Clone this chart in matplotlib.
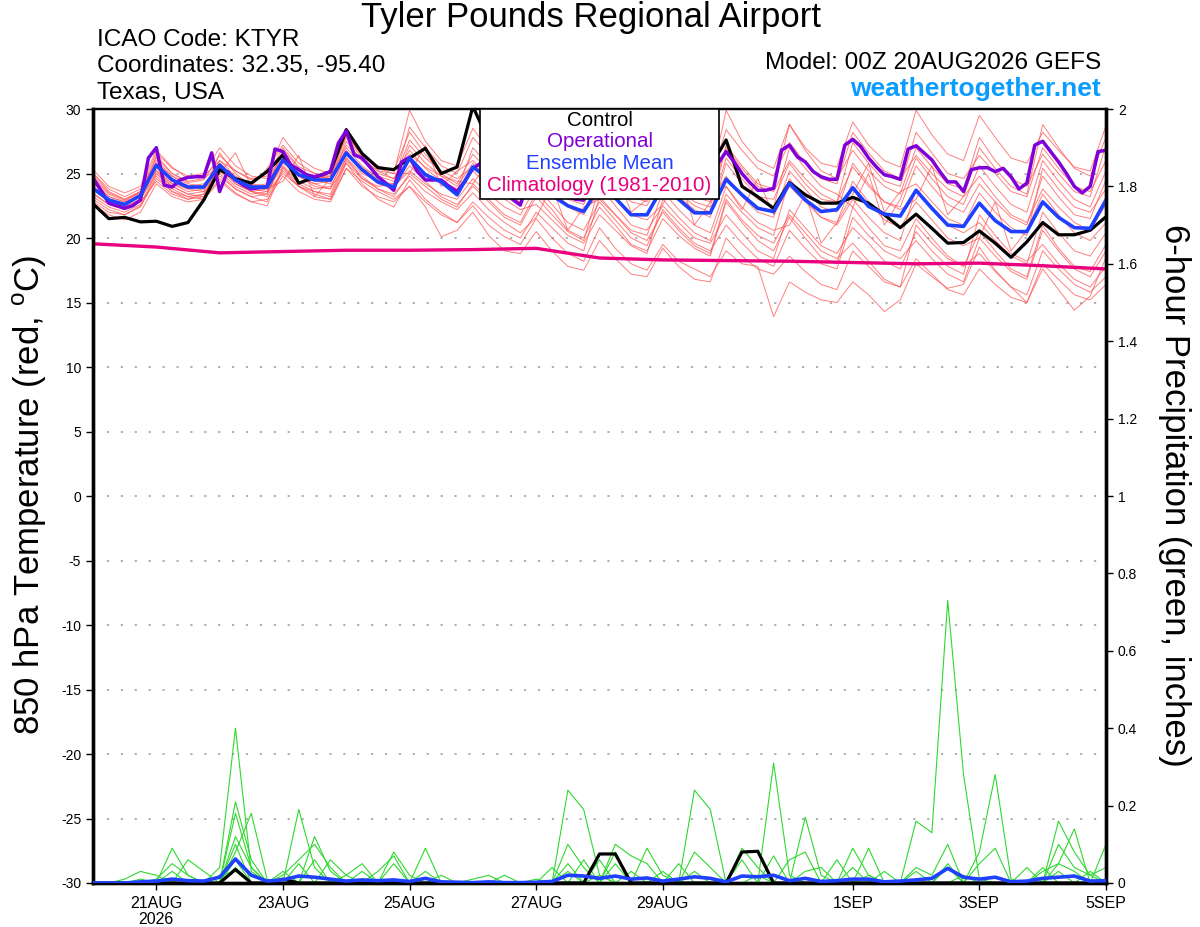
import matplotlib
matplotlib.use("Agg")
import matplotlib.pyplot as plt
import numpy as np
from matplotlib.patches import Rectangle

plt.rcParams['font.family'] = ['Liberation Sans', 'DejaVu Sans']
plt.rcParams['axes.unicode_minus'] = False
plt.rcParams['mathtext.fontset'] = 'custom'
plt.rcParams['mathtext.rm'] = 'Liberation Sans'

# ---- data ----
# 850 hPa temperature, 6-hourly from 00Z 20AUG
ens_mean_t = [23.85, 22.95, 22.6, 23.3, 25.65, 24.5, 23.95, 23.95,
              25.65, 24.5, 23.95, 23.95, 26.05, 24.9, 24.5, 24.5,
              26.6, 25.3, 24.35, 23.95, 26.2, 24.9, 24.35, 23.35,
              25.5, 24.6, 23.8, 23.4, 24.8, 23.3, 22.5, 22.05,
              24.0, 23.1, 21.8, 21.8, 24.0, 23.0, 21.95, 21.95,
              24.55, 23.35, 22.3, 22.05, 24.25, 22.95, 22.05, 22.2,
              23.9, 22.45, 21.85, 21.7, 23.7, 22.3, 21.0, 20.9,
              22.7, 21.35, 20.5, 20.5, 22.8, 21.6, 20.8, 20.75,
              22.95]

control_t = [22.65, 21.5, 21.6, 21.25, 21.3, 20.9, 21.2, 22.95,
             25.3, 24.6, 24.25, 25.15, 26.45, 24.25, 24.7, 25.15,
             28.4, 26.55, 25.45, 25.3, 26.2, 26.95, 25.0, 25.5,
             30.2, 27.5, 26.0, 25.2, 26.8, 25.6, 24.6, 24.2,
             26.4, 25.4, 24.6, 24.2, 26.0, 25.2, 24.6, 25.5,
             27.6, 24.0, 23.2, 22.3, 24.3, 23.35, 22.7, 22.7,
             23.15, 22.7, 21.8, 20.8, 21.85, 20.75, 19.6, 19.65,
             20.55, 19.6, 18.5, 19.7, 21.2, 20.25, 20.25, 20.6,
             21.65]

# operational run is 3-hourly
oper_t = [24.65, 23.7, 22.7, 22.5, 22.3, 22.5, 22.95, 26.2,
          27.0, 24.1, 23.95, 24.5, 24.7, 24.75, 24.75, 26.6,
          23.6, 25.15, 24.5, 24.1, 23.8, 23.9, 23.95, 26.9,
          26.7, 25.65, 25.3, 24.9, 24.75, 24.9, 25.15, 27.35,
          28.3, 26.45, 26.2, 25.5, 24.75, 24.25, 23.7, 25.9,
          26.25, 25.15, 24.5, 24.5, 24.5, 24.0, 23.6, 24.4,
          25.4, 25.8, 25.0, 24.2, 23.6, 23.0, 22.55, 24.5,
          25.6, 25.0, 24.2, 23.5, 23.2, 23.0, 22.95, 24.8,
          25.8, 25.2, 24.6, 24.0, 23.6, 23.4, 23.3, 25.2,
          26.0, 25.4, 24.8, 24.2, 23.8, 23.6, 24.0, 25.8,
          26.7, 25.9, 25.0, 24.3, 23.7, 23.7, 23.85, 26.8,
          27.2, 26.3, 25.9, 25.15, 24.75, 24.55, 24.55, 27.2,
          27.65, 27.1, 26.2, 25.5, 24.9, 24.75, 24.55, 26.9,
          27.15, 26.6, 26.05, 25.15, 24.35, 24.35, 23.6, 25.3,
          25.45, 25.45, 25.15, 25.4, 24.75, 23.8, 24.25, 27.2,
          27.5, 26.7, 25.9, 25.0, 24.0, 23.5, 24.0, 26.7,
          26.8]

# climatology, one value per day
clim_t = [19.55, 19.3, 18.85, 18.95, 19.05, 19.05, 19.1, 19.2, 18.45,
          18.3, 18.25, 18.2, 18.1, 18.0, 18.05, 17.85, 17.6]

member_t = [
    [24.5, 23.2, 22.8, 23.6, 26.2, 25.0, 24.3, 24.5, 26.4, 25.2, 24.6, 24.8, 27.0, 25.5, 25.0, 24.8,
     27.2, 26.0, 25.2, 25.0, 29.9, 27.5, 26.0, 25.6, 28.5, 26.8, 25.5, 25.0, 27.8, 26.0, 24.8, 24.5,
     27.0, 25.5, 24.3, 24.0, 27.5, 25.8, 24.6, 24.2, 29.9, 27.5, 26.0, 25.4, 28.8, 27.0, 25.8, 25.5,
     29.0, 27.2, 26.0, 25.5, 29.9, 28.0, 26.5, 26.0, 29.5, 27.8, 26.2, 25.8, 28.2, 26.8, 25.5, 25.2, 28.7],
    [23.2, 22.4, 22.0, 22.6, 25.0, 23.8, 23.2, 23.0, 24.6, 23.5, 22.8, 22.5, 25.4, 24.0, 23.2, 23.0,
     25.8, 24.2, 23.0, 22.4, 24.5, 23.0, 22.0, 21.2, 22.5, 21.0, 20.1, 19.5, 21.5, 20.0, 18.8, 18.2,
     20.8, 19.2, 18.0, 17.5, 19.5, 18.2, 17.6, 17.0, 19.0, 18.0, 17.8, 13.9, 16.6, 15.8, 15.2, 15.0,
     16.6, 15.6, 14.3, 15.2, 18.0, 17.0, 16.1, 16.4, 19.3, 17.5, 16.2, 15.0, 17.6, 16.0, 14.4, 15.5, 18.5],
    [24.0, 23.0, 22.6, 23.3, 26.0, 24.8, 24.2, 24.0, 25.8, 24.6, 24.0, 24.2, 26.5, 25.2, 24.8, 24.6,
     27.0, 25.6, 24.6, 24.0, 26.5, 25.5, 24.8, 24.0, 25.8, 24.6, 23.8, 23.2, 25.5, 24.0, 23.0, 22.6,
     25.2, 23.8, 22.8, 22.5, 24.8, 23.5, 22.5, 22.0, 26.2, 24.6, 23.2, 23.0, 25.8, 24.2, 23.0, 22.8,
     25.5, 24.0, 22.8, 22.4, 25.6, 24.0, 22.6, 22.0, 24.2, 22.8, 21.6, 21.0, 24.8, 23.2, 21.8, 21.5, 24.5],
    [22.8, 22.0, 21.8, 22.4, 24.8, 23.6, 23.0, 23.2, 25.0, 23.8, 23.2, 22.8, 25.5, 24.2, 23.6, 23.4,
     26.2, 24.6, 23.8, 23.2, 25.0, 24.0, 23.0, 22.4, 24.2, 23.0, 21.8, 21.2, 23.5, 22.2, 20.6, 20.0,
     22.4, 21.0, 19.5, 19.0, 21.5, 20.2, 19.2, 18.6, 22.8, 21.2, 19.8, 19.0, 21.6, 20.0, 18.5, 18.0,
     22.4, 20.8, 19.4, 19.0, 21.5, 20.0, 18.6, 17.8, 20.5, 19.0, 17.6, 17.0, 21.0, 19.2, 17.8, 17.4, 19.5],
    [25.3, 24.0, 23.5, 24.0, 26.8, 25.5, 24.6, 24.8, 26.0, 25.2, 24.5, 25.0, 27.8, 26.2, 25.4, 25.0,
     28.0, 26.4, 25.6, 25.2, 28.2, 26.5, 25.0, 24.2, 26.5, 25.2, 24.0, 23.5, 26.0, 24.8, 23.8, 23.2,
     27.0, 25.4, 24.0, 23.6, 26.0, 24.6, 23.2, 22.8, 27.2, 25.6, 24.2, 23.8, 28.8, 26.8, 25.2, 24.6,
     26.8, 25.2, 24.0, 23.4, 27.0, 25.5, 24.2, 23.8, 27.8, 26.0, 24.6, 24.0, 26.5, 25.0, 23.6, 23.2, 27.2],
    [24.8, 23.5, 23.0, 23.6, 25.2, 24.2, 23.8, 23.6, 26.6, 25.0, 24.0, 23.8, 25.8, 24.8, 24.2, 24.4,
     26.8, 25.2, 24.2, 23.8, 25.6, 24.4, 23.2, 22.6, 24.0, 22.8, 21.6, 21.0, 23.2, 21.8, 20.5, 19.8,
     24.0, 22.5, 21.0, 20.6, 22.5, 21.2, 20.0, 19.6, 21.8, 20.4, 19.0, 18.4, 22.2, 20.8, 19.4, 18.8,
     20.8, 19.6, 18.2, 17.6, 20.5, 19.0, 17.8, 17.2, 21.8, 20.2, 18.8, 18.2, 19.5, 18.0, 16.8, 16.2, 17.8],
    [23.5, 22.6, 22.2, 22.9, 26.4, 25.0, 24.4, 24.6, 25.6, 24.4, 23.6, 23.4, 26.2, 24.8, 24.0, 23.8,
     25.8, 24.6, 24.0, 24.2, 27.2, 25.8, 24.8, 24.4, 24.2, 26.0, 24.4, 23.0, 24.8, 23.6, 22.6, 22.0,
     23.4, 25.2, 22.0, 23.0, 26.8, 25.2, 24.0, 23.4, 24.0, 22.2, 24.6, 21.8, 24.0, 22.8, 21.6, 21.2,
     23.4, 25.8, 22.0, 23.6, 24.2, 22.8, 21.5, 21.0, 23.5, 22.0, 20.8, 20.2, 25.4, 23.8, 22.4, 22.0, 23.8],
    [24.2, 23.2, 22.8, 23.2, 25.6, 24.4, 23.8, 24.0, 26.0, 24.8, 24.2, 24.0, 26.8, 25.4, 24.5, 24.2,
     27.5, 26.0, 25.0, 24.6, 26.0, 25.0, 24.2, 23.6, 27.0, 25.6, 24.4, 24.0, 26.4, 25.0, 24.0, 23.4,
     25.8, 24.4, 23.2, 22.8, 25.0, 23.8, 22.8, 22.4, 27.0, 25.4, 24.0, 23.6, 26.0, 24.6, 23.4, 22.8,
     27.4, 25.8, 24.4, 24.0, 28.2, 26.6, 25.0, 24.6, 26.4, 25.0, 23.6, 23.2, 27.0, 25.4, 24.0, 23.6, 26.0],
    [23.0, 22.2, 21.8, 22.5, 24.6, 23.6, 23.2, 23.4, 25.2, 24.0, 23.4, 23.6, 25.0, 24.0, 23.6, 23.2,
     26.0, 24.8, 23.8, 23.4, 24.8, 23.6, 22.8, 22.2, 23.5, 22.2, 21.2, 20.4, 21.6, 24.0, 20.6, 22.4,
     23.0, 21.8, 20.6, 20.2, 23.6, 22.2, 21.0, 20.4, 24.0, 22.4, 21.2, 20.6, 21.0, 23.4, 19.6, 21.2,
     24.4, 22.8, 21.4, 20.8, 22.8, 21.4, 20.0, 19.4, 20.0, 22.8, 19.0, 20.6, 23.4, 21.8, 20.4, 19.8, 21.2],
    [25.0, 23.8, 23.2, 23.8, 25.8, 24.8, 24.0, 24.2, 25.4, 24.2, 23.6, 23.8, 24.4, 26.4, 23.2, 24.6,
     27.8, 26.2, 25.2, 24.6, 26.8, 25.4, 24.4, 23.8, 25.2, 24.0, 23.0, 22.2, 22.6, 21.4, 20.2, 19.6,
     21.8, 20.6, 19.4, 18.8, 23.0, 21.6, 20.4, 19.8, 23.4, 22.0, 20.8, 20.2, 24.6, 23.0, 21.6, 21.0,
     23.0, 21.6, 20.4, 19.8, 23.8, 22.4, 21.0, 20.4, 21.2, 19.8, 18.6, 18.0, 22.0, 20.4, 19.0, 18.6, 20.4],
    [24.6, 23.4, 22.9, 23.5, 25.4, 24.2, 23.6, 23.8, 25.0, 26.6, 24.0, 25.4, 27.2, 25.8, 25.0, 24.6,
     26.4, 25.4, 24.8, 24.4, 27.6, 26.2, 25.2, 24.6, 25.5, 24.4, 23.4, 22.8, 25.0, 23.6, 22.4, 21.8,
     24.4, 23.0, 21.8, 21.4, 22.6, 25.0, 21.0, 22.8, 24.8, 23.2, 22.0, 21.6, 25.2, 23.8, 22.4, 22.0,
     25.8, 24.2, 22.8, 22.2, 23.0, 25.6, 21.8, 23.2, 24.8, 23.2, 21.8, 21.2, 23.8, 22.4, 21.2, 20.6, 22.6],
    [23.8, 22.8, 22.4, 23.0, 25.2, 24.0, 23.4, 23.6, 24.8, 23.8, 23.2, 23.4, 26.0, 24.8, 24.2, 23.8,
     26.6, 25.2, 24.4, 24.0, 25.2, 24.2, 23.4, 23.0, 24.6, 23.4, 22.4, 21.8, 24.0, 22.6, 21.2, 20.6,
     22.8, 21.4, 20.0, 19.4, 22.2, 20.8, 19.6, 19.0, 21.0, 19.6, 18.4, 17.8, 20.6, 19.2, 18.0, 17.6,
     21.6, 20.2, 19.0, 18.4, 19.8, 18.4, 17.2, 16.6, 20.0, 18.6, 17.4, 16.8, 20.6, 19.0, 17.6, 17.0, 19.0],
    [24.4, 23.0, 22.4, 23.0, 25.0, 24.0, 23.4, 23.2, 25.8, 24.6, 23.8, 23.6, 25.6, 24.4, 23.8, 24.0,
     26.2, 25.0, 24.4, 24.2, 28.6, 27.0, 25.6, 25.0, 27.8, 26.4, 25.2, 24.6, 27.2, 25.8, 24.6, 24.0,
     26.6, 25.2, 23.8, 23.4, 28.0, 26.4, 25.0, 24.4, 28.4, 26.8, 25.4, 24.8, 27.4, 25.8, 24.6, 24.2,
     28.2, 26.6, 25.2, 24.6, 26.4, 25.0, 23.8, 23.2, 27.0, 25.4, 24.0, 23.4, 28.8, 27.0, 25.4, 24.8, 27.8],
    [22.6, 21.8, 21.4, 22.0, 24.2, 23.2, 22.8, 23.0, 24.4, 23.4, 22.8, 23.0, 24.8, 23.6, 23.0, 22.8,
     25.4, 24.0, 23.2, 22.8, 24.0, 22.8, 21.8, 21.2, 22.8, 21.6, 20.6, 20.0, 22.0, 20.8, 19.6, 19.0,
     23.2, 21.8, 20.4, 19.8, 22.0, 20.6, 19.4, 18.8, 23.0, 21.4, 20.2, 19.6, 21.8, 20.4, 19.0, 18.4,
     19.6, 18.2, 16.8, 16.2, 21.0, 19.6, 18.4, 17.8, 18.8, 17.4, 16.2, 15.6, 19.0, 17.6, 16.4, 15.8, 17.0],
    [25.0, 23.6, 23.0, 23.6, 26.6, 25.4, 24.8, 25.0, 27.0, 25.6, 24.8, 24.6, 26.4, 25.2, 24.6, 24.8,
     28.0, 26.4, 25.4, 25.0, 25.0, 27.2, 24.0, 25.2, 26.0, 24.8, 23.8, 23.2, 25.8, 24.4, 23.2, 22.8,
     26.2, 24.8, 23.6, 23.0, 24.4, 23.2, 22.2, 21.6, 25.8, 24.2, 23.0, 22.4, 27.0, 25.4, 24.0, 23.4,
     22.4, 25.0, 21.0, 23.0, 26.2, 24.6, 23.2, 22.6, 25.6, 24.0, 22.6, 22.0, 26.0, 24.4, 23.0, 22.4, 25.2],
    [23.4, 22.6, 22.2, 22.8, 24.4, 23.4, 23.0, 23.4, 25.6, 24.2, 23.6, 23.2, 25.2, 24.0, 23.4, 23.0,
     25.4, 24.4, 23.6, 23.0, 24.0, 22.4, 20.1, 20.6, 22.0, 20.2, 19.0, 18.8, 20.5, 19.0, 17.8, 17.5,
     19.8, 18.4, 17.2, 17.0, 19.2, 17.8, 16.8, 16.6, 20.0, 18.6, 17.6, 17.2, 18.6, 17.4, 16.4, 16.0,
     19.0, 17.8, 16.6, 16.2, 18.4, 17.2, 16.0, 15.6, 17.6, 16.4, 15.4, 15.0, 18.0, 16.8, 15.6, 15.2, 16.4],
]

# 6-hour precipitation in hundredths of an inch
ens_mean_p = [0, 0, 0, 0.3, 0.5, 1, 0.6, 0.5,
              1.5, 6.2, 2, 0.5, 0.8, 1.8, 1.5, 1,
              0.5, 0.8, 0.6, 0.8, 0.4, 1.2, 0.3, 0.2,
              0.1, 0.3, 0.1, 0.1, 0.2, 0.4, 2, 1.8,
              1.2, 1.8, 1, 1.3, 0.5, 1, 1.6, 1.2,
              0.3, 1.8, 1.6, 2, 0.6, 1.2, 0.4, 0.6,
              1, 1, 0.3, 0.5, 0.8, 1.2, 3.8, 1.5,
              1, 1.5, 0.3, 0.5, 1.2, 1.5, 1.8, 0.5,
              0.6]

control_p = [0, 0, 0, 0, 0, 0, 0, 0,
             0, 3.5, 0, 0, 1, 0, 0, 0,
             0, 0, 0, 0, 0, 0, 0, 0,
             0, 0, 0, 0, 0, 0, 0, 0,
             7.5, 7.5, 0, 0, 0, 0, 0, 0,
             0, 8, 8.2, 0, 0, 0, 0, 0,
             0, 0, 0, 0, 0, 0, 0, 0,
             0, 0, 0, 0, 0, 0, 0, 0,
             0]

member_p = [
    [0, 0, 0, 0, 0, 0, 0, 0,  4, 40, 3, 0, 0, 0, 0, 0,  0, 0, 0, 0, 0, 0, 0, 0,  0, 0, 0, 0, 0, 0, 24, 19,
     2, 0, 0, 0, 0, 0, 0, 0,  0, 0, 0, 0, 0, 0, 0, 0,  0, 0, 0, 0, 4, 2, 10, 0,  0, 0, 0, 0, 0, 0, 0, 0,  0],
    [0, 0, 0, 0, 0, 0, 0, 0,  0, 21, 6, 0, 0, 19, 4, 0,  0, 0, 0, 0, 0, 0, 0, 0,  0, 0, 0, 0, 0, 0, 0, 0,
     0, 0, 0, 0, 0, 0, 24, 19,  0, 0, 0, 0, 0, 0, 0, 0,  0, 0, 0, 0, 0, 0, 5, 0,  0, 0, 0, 0, 0, 0, 0, 0,  0],
    [0, 0, 0, 0, 0, 9, 2, 0,  0, 18, 4, 0, 0, 0, 0, 0,  0, 0, 0, 0, 0, 9, 0, 0,  0, 0, 0, 0, 0, 0, 0, 0,
     0, 0, 0, 0, 0, 0, 0, 0,  0, 0, 0, 31, 2, 0, 0, 0,  0, 0, 0, 0, 0, 0, 0, 0,  0, 0, 0, 0, 0, 16, 8, 2,  0],
    [0, 0, 0, 0, 0, 0, 0, 0,  0, 8, 18, 1, 0, 0, 12, 3,  0, 0, 0, 0, 0, 0, 0, 0,  0, 0, 0, 0, 0, 0, 0, 0,
     0, 0, 0, 0, 0, 0, 0, 0,  0, 0, 0, 0, 0, 0, 0, 0,  0, 0, 0, 0, 16, 13, 73, 28,  1, 0, 0, 0, 0, 0, 0, 0,  0],
    [0, 0, 0, 0, 0, 0, 6, 3,  0, 10, 0, 0, 2, 6, 10, 4,  0, 0, 0, 0, 0, 0, 0, 0,  0, 0, 0, 0, 0, 0, 10, 4,
     0, 10, 7, 5, 0, 0, 0, 0,  0, 0, 0, 0, 0, 0, 0, 0,  0, 0, 0, 0, 0, 0, 0, 0,  8, 28, 1, 0, 0, 0, 0, 0,  0],
    [0, 0, 0, 0, 1, 5, 2, 0,  0, 0, 0, 0, 0, 0, 0, 6,  2, 5, 0, 8, 2, 0, 0, 0,  0, 0, 0, 0, 0, 0, 0, 0,
     0, 8, 0, 9, 2, 0, 0, 0,  0, 0, 0, 0, 0, 17, 2, 0,  0, 0, 0, 0, 0, 0, 0, 0,  0, 0, 0, 0, 0, 5, 14, 0,  0],
    [0, 0, 1, 3, 2, 0, 0, 0,  0, 6, 0, 0, 0, 5, 0, 0,  0, 0, 0, 5, 0, 0, 2, 0,  0, 0, 0, 0, 0, 4, 0, 0,
     6, 0, 0, 0, 0, 5, 0, 0,  0, 9, 4, 0, 0, 0, 0, 0,  9, 2, 0, 0, 0, 0, 0, 0,  0, 0, 0, 0, 3, 5, 3, 0,  10],
    [0, 0, 0, 0, 0, 3, 0, 0,  0, 12, 4, 0, 0, 0, 0, 0,  0, 0, 3, 7, 0, 3, 0, 0,  0, 0, 0, 0, 0, 0, 0, 6,
     0, 0, 3, 0, 0, 0, 8, 4,  0, 0, 0, 0, 6, 8, 0, 6,  0, 9, 0, 0, 3, 0, 0, 0,  0, 0, 0, 4, 0, 10, 4, 2,  4],
    [0, 0, 0, 0, 0, 0, 0, 0,  0, 4, 0, 0, 0, 0, 6, 0,  0, 3, 0, 0, 0, 0, 0, 0,  0, 0, 2, 0, 0, 0, 3, 0,
     0, 5, 0, 0, 3, 0, 0, 0,  0, 6, 0, 7, 0, 0, 0, 0,  4, 0, 3, 0, 0, 0, 4, 0,  5, 9, 0, 0, 4, 0, 0, 3,  0],
    [0, 0, 0, 1, 0, 0, 0, 0,  2, 3, 0, 0, 3, 0, 0, 0,  2, 0, 0, 0, 0, 0, 0, 0,  1, 2, 0, 0, 1, 0, 5, 0,
     2, 0, 0, 0, 0, 0, 3, 0,  0, 0, 2, 0, 0, 3, 4, 0,  0, 2, 0, 0, 0, 0, 0, 2,  0, 0, 0, 0, 0, 3, 0, 0,  0],
]

tick_days = [1, 3, 5, 7, 9, 12, 14, 16]
tick_labels = ['21AUG\n2026', '23AUG', '25AUG', '27AUG', '29AUG', '1SEP', '3SEP', '5SEP']
precip_ticks = [0, 0.2, 0.4, 0.6, 0.8, 1, 1.2, 1.4, 1.6, 1.8, 2]
precip_tick_labels = ['0', '0.2', '0.4', '0.6', '0.8', '1', '1.2', '1.4', '1.6', '1.8', '2']

# time axes in days since 00Z 20AUG
t6 = np.arange(len(ens_mean_t)) * 0.25
t3 = np.arange(len(oper_t)) * 0.125
t_clim = np.arange(len(clim_t))

c_member = '#ff4a4a'
c_green = '#2fd82f'
c_oper = '#8000d8'
c_mean = '#2040ff'
c_clim = '#e8007e'

W, H = 1200, 927
fig = plt.figure(figsize=(W / 100, H / 100), dpi=100)
ax = fig.add_axes([93 / W, 1 - 883 / H, (1106 - 93) / W, (883 - 109) / H])
ax2 = ax.twinx()

# temperature
for m in member_t:
    ax.plot(t6, m, color=c_member, lw=0.7, alpha=0.7, zorder=2)
ax.plot(t_clim, clim_t, color=c_clim, lw=2.4, zorder=3)
ax.plot(t6, control_t, color='black', lw=2.3, zorder=4)
ax.plot(t3, oper_t, color=c_oper, lw=2.5, zorder=5)
ax.plot(t6, ens_mean_t, color=c_mean, lw=2.6, zorder=6)

ax.set_xlim(0, 16)
ax.set_ylim(-30, 30)
ax.set_yticks(np.arange(-30, 31, 5))
ax.set_xticks(tick_days)
ax.set_xticklabels(tick_labels, fontsize=11.5, linespacing=1.15)
ax.tick_params(axis='y', labelsize=10, direction='out', length=5, width=1)
ax.tick_params(axis='x', direction='out', length=5, width=1, pad=4)
ax.grid(axis='y', color='#a8a8a8', linestyle=(0, (1.2, 6.5)), linewidth=1.3)
ax.set_axisbelow(True)

# precipitation
for m in member_p:
    ax2.plot(t6, np.array(m) / 100.0, color=c_green, lw=0.8, zorder=2)
ax2.plot(t6, np.array(control_p) / 100.0, color='black', lw=2.3, zorder=4)
ax2.plot(t6, np.array(ens_mean_p) / 100.0, color=c_mean, lw=2.6, zorder=5)
ax2.set_ylim(0, 2)
ax2.set_yticks(precip_ticks)
ax2.set_yticklabels(precip_tick_labels)
ax2.tick_params(axis='y', labelsize=10, direction='out', length=5, width=1)

for a in (ax, ax2):
    a.spines['left'].set_linewidth(2.4)
    a.spines['bottom'].set_linewidth(2.4)
    a.spines['right'].set_linewidth(2.4)
    a.spines['top'].set_linewidth(1.6)

# legend box in the top middle
ax2.add_patch(Rectangle((0.382, 0.8837), 0.236, 0.1163, transform=ax2.transAxes,
                        facecolor='white', edgecolor='black', lw=1.2, zorder=10))
legend_items = [('Control', 'black', 0.9845), ('Operational', c_oper, 0.9585),
                ('Ensemble Mean', c_mean, 0.930), ('Climatology (1981-2010)', c_clim, 0.9018)]
for txt, col, yy in legend_items:
    ax2.text(0.5, yy, txt, color=col, fontsize=14.8, ha='center', va='center',
             transform=ax2.transAxes, zorder=11)

# axis titles
fig.text(30 / W, 1 - 495 / H, r'850 hPa Temperature (red, $^{\mathrm{o}}$C)', rotation=90,
         ha='center', va='center', fontsize=25)
fig.text(1175 / W, 1 - 495 / H, '6-hour Precipitation (green, inches)', rotation=270,
         ha='center', va='center', fontsize=25)

# header
fig.text(591 / W, 1 - 18 / H, 'Tyler Pounds Regional Airport', ha='center', va='center', fontsize=25)
fig.text(97 / W, 1 - 40 / H, 'ICAO Code: KTYR', ha='left', va='center', fontsize=17.6)
fig.text(97 / W, 1 - 66 / H, 'Coordinates: 32.35, -95.40', ha='left', va='center', fontsize=17.6)
fig.text(97 / W, 1 - 93 / H, 'Texas, USA', ha='left', va='center', fontsize=17.6)
fig.text(1101 / W, 1 - 63 / H, 'Model: 00Z 20AUG2026 GEFS', ha='right', va='center', fontsize=17.6)
fig.text(1101 / W, 1 - 89 / H, 'weathertogether.net', ha='right', va='center', fontsize=19,
         fontweight='bold', color='#0a9cff')

fig.savefig('out.png', dpi=100)
